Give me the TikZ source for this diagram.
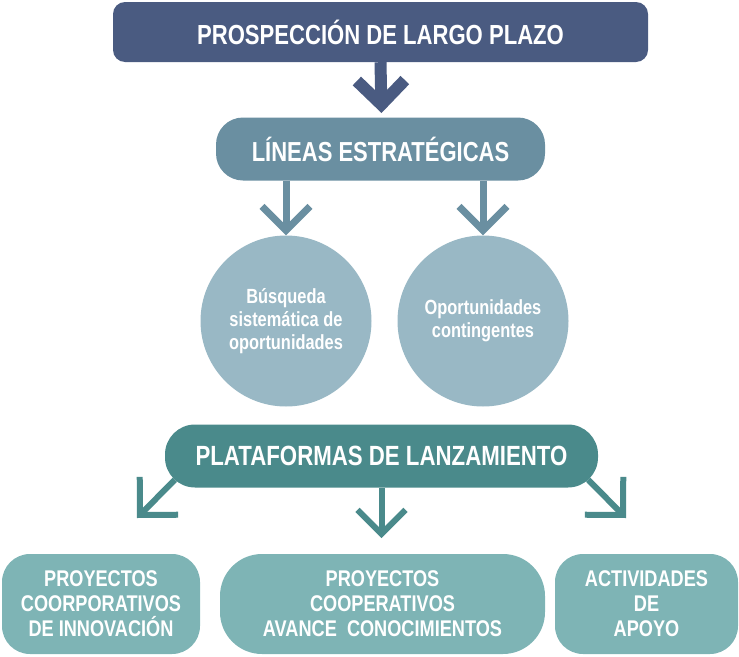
\documentclass[tikz,border=0pt]{standalone}
\usepackage{fontspec}
\setmainfont{Liberation Sans}[FakeStretch=0.8]
\usetikzlibrary{arrows.meta}
\definecolor{prosp}{HTML}{4A5B81}
\definecolor{lineas}{HTML}{6A8FA1}
\definecolor{circ}{HTML}{99B8C5}
\definecolor{plat}{HTML}{4A8A8B}
\definecolor{proy}{HTML}{7EB4B5}

\begin{document}
\begin{tikzpicture}[x=1pt,y=-1pt,font=\bfseries,
box/.style={fill=#1,text=white,inner sep=0pt,align=center},
circ/.style={circle,fill=circ,text=white,minimum size=171pt,inner sep=0pt,align=center,
 font=\bfseries\fontsize{20.5}{23}\selectfont},
low/.style={box=proy,minimum height=100pt,font=\bfseries\fontsize{22.7}{25}\selectfont},
chev/.style={draw=#1,line width=7pt,-{Straight Barb[sharp,length=24pt,width=48pt]}}]
\useasboundingbox (0,0) rectangle (739,656);
\node[box=prosp,rounded corners=12pt,minimum width=535pt,minimum height=60pt,
 font=\bfseries\fontsize{27.6}{30}\selectfont] (prosp) at (380.5,32) {PROSPECCIÓN DE LARGO PLAZO};
\node[box=lineas,rounded corners=27pt,minimum width=329pt,minimum height=63pt,
 font=\bfseries\fontsize{27.5}{30}\selectfont] (lineas) at (380.5,149) {LÍNEAS ESTRATÉGICAS};
\node[circ] (busq) at (286,321) {Búsqueda\\sistemática de\\oportunidades};
\node[circ] (oport) at (483,321) {Oportunidades\\contingentes};
\node[box=plat,rounded corners=30pt,minimum width=433pt,minimum height=63pt,
 font=\bfseries\fontsize{27.8}{30}\selectfont] (plat) at (381.5,456) {PLATAFORMAS DE LANZAMIENTO};
\node[low,rounded corners=28pt,minimum width=198pt] (corp) at (101,604) {PROYECTOS\\COORPORATIVOS\\DE INNOVACIÓN};
\node[low,rounded corners=42pt,minimum width=325pt] (coop) at (382.5,604) {PROYECTOS\\COOPERATIVOS\\AVANCE\ \ CONOCIMIENTOS};
\node[low,rounded corners=28pt,minimum width=183pt] (apoyo) at (646.5,604) {ACTIVIDADES\\DE\\APOYO};
% flechas
\draw[chev=prosp,line width=12pt] (prosp.south) -- (381.5,113);
\draw[chev=lineas] (lineas.south -| busq) -- (busq.north);
\draw[chev=lineas] (lineas.south -| oport) -- (oport.north);
\coordinate (tipL) at (137,518);
\coordinate (tipR) at (626,518);
\draw[chev=plat,line width=6pt,-{Straight Barb[sharp,length=27pt,width=54pt]}] (plat.south west) ++(10,-8) -- (tipL);
\draw[chev=plat,line width=6pt] (plat.south) -- (381.5,538);
\draw[chev=plat,line width=6pt,-{Straight Barb[sharp,length=27pt,width=54pt]}] (plat.south east) ++(-10,-8) -- (tipR);
\end{tikzpicture}
\end{document}
